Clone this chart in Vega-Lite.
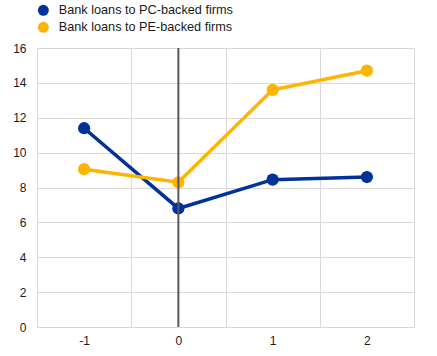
{
  "$schema": "https://vega.github.io/schema/vega-lite/v6.json",
  "autosize": {"type": "none"},
  "width": 377,
  "height": 279,
  "padding": {"left": 37, "top": 48, "right": 23, "bottom": 29},
  "config": {
    "view": {"stroke": null},
    "font": "Liberation Sans",
    "axis": {"labelFont": "Liberation Sans", "labelFontSize": 12, "labelColor": "#1a1a1a", "gridColor": "#d9d9d9", "gridWidth": 1, "domain": false, "ticks": false, "title": null},
    "legend": {"labelFont": "Liberation Sans", "labelFontSize": 12.7, "labelColor": "#1a1a1a", "labelLimit": 400}
  },
  "data": {"values": [
    {"t": "-1", "series": "Bank loans to PC-backed firms", "v": 11.4},
    {"t": "0", "series": "Bank loans to PC-backed firms", "v": 6.8},
    {"t": "1", "series": "Bank loans to PC-backed firms", "v": 8.45},
    {"t": "2", "series": "Bank loans to PC-backed firms", "v": 8.6},
    {"t": "-1", "series": "Bank loans to PE-backed firms", "v": 9.05},
    {"t": "0", "series": "Bank loans to PE-backed firms", "v": 8.3},
    {"t": "1", "series": "Bank loans to PE-backed firms", "v": 13.6},
    {"t": "2", "series": "Bank loans to PE-backed firms", "v": 14.7}
  ]},
  "layer": [
    {
      "mark": {"type": "line", "strokeWidth": 3.5},
      "encoding": {
        "x": {"field": "t", "type": "ordinal", "sort": ["-1", "0", "1", "2"], "bandPosition": 0.5,
              "scale": {"type": "band", "paddingInner": 0, "paddingOuter": 0},
              "axis": {"tickBand": "extent", "grid": true, "labelAngle": 0, "labelPadding": 8, "domain": true, "domainColor": "#d9d9d9"}},
        "y": {"field": "v", "type": "quantitative", "scale": {"domain": [0, 16], "nice": false},
              "axis": {"tickCount": 8, "labelOverlap": false, "labelBound": false, "grid": true, "labelPadding": 11}},
        "color": {"field": "series", "type": "nominal",
                  "scale": {"domain": ["Bank loans to PC-backed firms", "Bank loans to PE-backed firms"], "range": ["#003299", "#ffb400"]},
                  "legend": {"title": null, "orient": "none", "legendX": 0, "legendY": -44, "symbolType": "circle", "symbolSize": 120, "symbolStrokeWidth": 0, "rowPadding": 3, "labelOffset": 9}}
      }
    },
    {
      "mark": {"type": "point", "filled": true, "opacity": 1, "size": 150},
      "encoding": {
        "x": {"field": "t", "type": "ordinal", "sort": ["-1", "0", "1", "2"], "bandPosition": 0.5},
        "y": {"field": "v", "type": "quantitative"},
        "color": {"field": "series", "type": "nominal"}
      }
    },
    {
      "data": {"values": [{"t": "0"}]},
      "mark": {"type": "rule", "color": "#595959", "strokeWidth": 2},
      "encoding": {
        "x": {"field": "t", "type": "ordinal", "bandPosition": 0.5}
      }
    }
  ]
}
